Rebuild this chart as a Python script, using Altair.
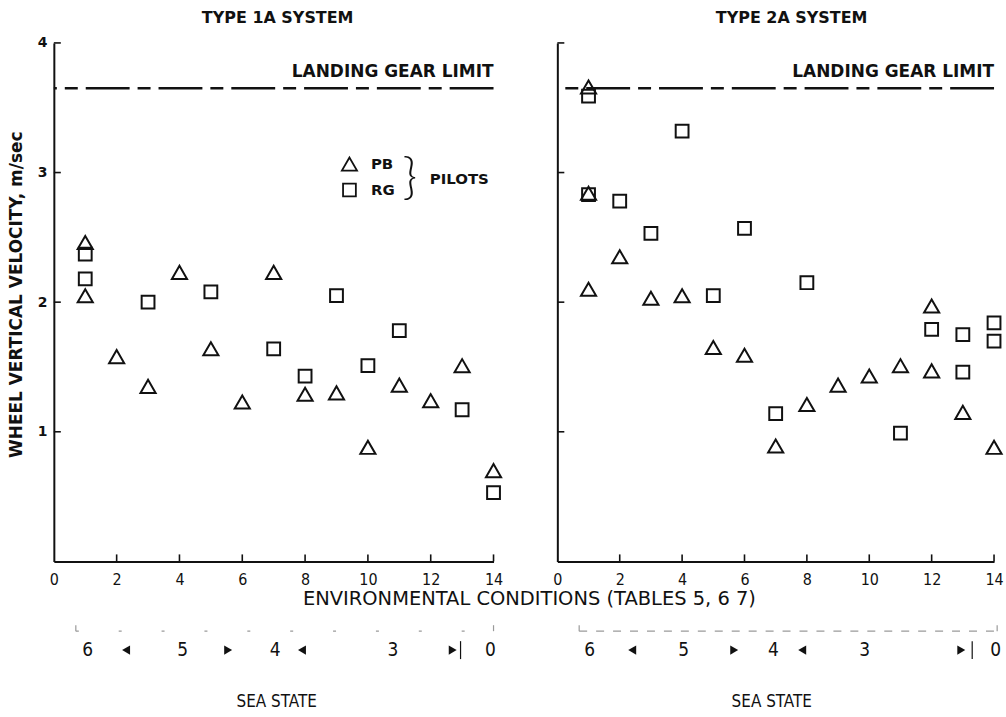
import altair as alt
import pandas as pd

# Wheel vertical velocity (m/sec) against environmental condition number, per pilot
T1_PB_COND = [1, 1, 2, 3, 4, 5, 6, 7, 8, 9, 10, 11, 12, 13, 14]
T1_PB_VEL = [2.46, 2.05, 1.58, 1.35, 2.23, 1.64, 1.23, 2.23, 1.29, 1.30, 0.88, 1.36, 1.24, 1.51, 0.70]
T1_RG_COND = [1, 1, 3, 5, 7, 8, 9, 10, 11, 13, 14]
T1_RG_VEL = [2.37, 2.18, 2.00, 2.08, 1.64, 1.43, 2.05, 1.51, 1.78, 1.17, 0.53]

T2_PB_COND = [1, 1, 1, 2, 3, 4, 5, 6, 7, 8, 9, 10, 11, 12, 12, 13, 14]
T2_PB_VEL = [3.66, 2.84, 2.10, 2.35, 2.03, 2.05, 1.65, 1.59, 0.89, 1.21, 1.36, 1.43, 1.51, 1.97, 1.47, 1.15, 0.88]
T2_RG_COND = [1, 1, 2, 3, 4, 5, 6, 7, 8, 11, 12, 13, 13, 14, 14]
T2_RG_VEL = [3.59, 2.83, 2.78, 2.53, 3.32, 2.05, 2.57, 1.14, 2.15, 0.99, 1.79, 1.75, 1.46, 1.84, 1.70]

LANDING_GEAR_LIMIT = 3.65

PILOTS = ["PB", "RG"]
PILOT_SHAPES = ["triangle-up", "square"]
PILOT_SIZES = [230, 165]

X_TICKS = [0, 2, 4, 6, 8, 10, 12, 14]
Y_TICKS = [1, 2, 3, 4]

# Sea state scale drawn under each panel, located along the condition axis
SEA_STATES = ["6", "5", "4", "3", "0"]
T1_SEA_POS = [1.08, 4.1, 7.05, 10.8, 13.9]
T1_ARROW_LEFT = [2.3, 7.9]
T1_ARROW_RIGHT = [5.55, 12.7]
T1_STOP = [12.95]
T1_BRACKET = [0.7, 14.0]

T2_SEA_POS = [1.04, 4.05, 6.93, 9.85, 14.05]
T2_ARROW_LEFT = [2.4, 7.85]
T2_ARROW_RIGHT = [5.67, 12.95]
T2_STOP = [13.3]
T2_BRACKET = [0.7, 14.1]

H = 520
BLACK = "#111111"
FADED = "#9a9a9a"
SANS = "DejaVu Sans"
NARROW = "Liberation Sans Narrow, DejaVu Sans Condensed, Liberation Sans"


def frame(conds_pb, vels_pb, conds_rg, vels_rg):
    return pd.concat([
        pd.DataFrame({"cond": conds_pb, "vel": vels_pb, "pilot": "PB"}),
        pd.DataFrame({"cond": conds_rg, "vel": vels_rg, "pilot": "RG"}),
    ], ignore_index=True)


def panel(df, title, W, title_dx, title_offset, sea_pos, arrow_l, arrow_r,
          stop, bracket, bracket_dash, sea_dx, first):
    xs = alt.Scale(domain=[0, 14], nice=False, zero=False)
    ys = alt.Scale(domain=[0, 4], nice=False, zero=False)

    x_axis = alt.Axis(values=X_TICKS, ticks=False, grid=False, domainWidth=2,
                      domainColor=BLACK, labelColor=BLACK, labelFont=NARROW,
                      labelFontSize=16, labelPadding=10, labelFlush=False,
                      format="d", title=None)
    if first:
        y_axis = alt.Axis(values=Y_TICKS, ticks=False, grid=False, domainWidth=2,
                          domainColor=BLACK, labelColor=BLACK, labelFont=SANS,
                          labelFontSize=14, labelFontWeight="bold",
                          labelPadding=7, format="d",
                          title="WHEEL VERTICAL VELOCITY, m/sec",
                          titleFont=SANS, titleFontSize=17,
                          titleFontWeight="bold", titleColor=BLACK,
                          titlePadding=12, titleY=252)
        legend = alt.Legend(orient="none", legendX=288, legendY=113, title=None,
                            symbolStrokeWidth=1.8,
                            symbolStrokeColor=BLACK, symbolFillColor="white",
                            labelFont=SANS, labelFontSize=15,
                            labelFontWeight="bold", labelColor=BLACK,
                            labelOffset=13, rowPadding=5)
    else:
        y_axis = alt.Axis(values=Y_TICKS, ticks=False, grid=False, domainWidth=2,
                          domainColor=BLACK, labels=False, title=None)
        legend = None

    points = alt.Chart(df).mark_point(filled=False, strokeWidth=2, color=BLACK,
                                      opacity=1).encode(
        x=alt.X("cond:Q", scale=xs, axis=x_axis),
        y=alt.Y("vel:Q", scale=ys, axis=y_axis),
        shape=alt.Shape("pilot:N", scale=alt.Scale(domain=PILOTS, range=PILOT_SHAPES),
                        legend=legend),
        size=alt.Size("pilot:N", scale=alt.Scale(domain=PILOTS, range=PILOT_SIZES),
                      legend=legend),
    )

    # inward tick marks on both axes
    x_ticks = alt.Chart(pd.DataFrame({"t": X_TICKS[1:]})).mark_rule(
        color=BLACK, strokeWidth=1.6).encode(
        x=alt.X("t:Q", scale=xs), y=alt.value(H), y2=alt.value(H - 7))
    y_ticks = alt.Chart(pd.DataFrame({"t": Y_TICKS})).mark_rule(
        color=BLACK, strokeWidth=1.6).encode(
        y=alt.Y("t:Q", scale=ys), x=alt.value(0), x2=alt.value(7))

    limit_df = pd.DataFrame({"v": [LANDING_GEAR_LIMIT]})
    limit = alt.Chart(limit_df).mark_rule(
        color=BLACK, strokeWidth=2.4, strokeDash=[44, 8, 13, 8]).encode(
        y=alt.Y("v:Q", scale=ys))
    limit_label = alt.Chart(limit_df).mark_text(
        align="right", baseline="bottom", dy=-7, font=SANS, fontSize=17,
        fontWeight="bold", color=BLACK).encode(
        x=alt.value(W), y=alt.Y("v:Q", scale=ys),
        text=alt.value("LANDING GEAR LIMIT"))

    # sea state scale below the axis, with its faded bracket line
    sea_y = H + 89
    bracket_df = pd.DataFrame({"a": [bracket[0]], "b": [bracket[1]]})
    bracket_line = alt.Chart(bracket_df).mark_rule(
        color=FADED, strokeWidth=1.2, strokeDash=bracket_dash).encode(
        x=alt.X("a:Q", scale=xs), x2="b:Q", y=alt.value(sea_y - 19))
    bracket_ends = alt.Chart(pd.DataFrame({"e": bracket})).mark_rule(
        color=FADED, strokeWidth=1.2).encode(
        x=alt.X("e:Q", scale=xs), y=alt.value(sea_y - 19), y2=alt.value(sea_y - 25))
    sea_labels = alt.Chart(pd.DataFrame({"pos": sea_pos, "s": SEA_STATES})).mark_text(
        font=NARROW, fontSize=19, color=BLACK, baseline="middle").encode(
        x=alt.X("pos:Q", scale=xs), y=alt.value(sea_y), text="s:N")
    left_arrows = alt.Chart(pd.DataFrame({"pos": arrow_l})).mark_point(
        shape="triangle-left", filled=True, size=85, color=BLACK, opacity=1).encode(
        x=alt.X("pos:Q", scale=xs), y=alt.value(sea_y))
    right_arrows = alt.Chart(pd.DataFrame({"pos": arrow_r})).mark_point(
        shape="triangle-right", filled=True, size=85, color=BLACK, opacity=1).encode(
        x=alt.X("pos:Q", scale=xs), y=alt.value(sea_y))
    stop_bar = alt.Chart(pd.DataFrame({"pos": stop})).mark_rule(
        color=BLACK, strokeWidth=1.2).encode(
        x=alt.X("pos:Q", scale=xs), y=alt.value(sea_y - 9), y2=alt.value(sea_y + 9))
    sea_title = alt.Chart(pd.DataFrame({"t": ["SEA STATE"]})).mark_text(
        font=NARROW, fontSize=17, color=BLACK).encode(
        x=alt.value(W / 2 + sea_dx), y=alt.value(H + 141), text="t:N")

    layers = [limit, x_ticks, y_ticks, points, limit_label, bracket_line,
              bracket_ends, sea_labels, left_arrows, right_arrows, stop_bar,
              sea_title]

    if first:
        pilots = alt.Chart(pd.DataFrame({"t": ["PILOTS"]})).mark_text(
            align="left", font=SANS, fontSize=15, fontWeight="bold",
            color=BLACK).encode(x=alt.value(377), y=alt.value(136), text="t:N")
        brace = alt.Chart(pd.DataFrame({"t": ["}"]})).mark_text(
            font="Lato", fontSize=50, fontWeight=300, color=BLACK).encode(
            x=alt.value(357), y=alt.value(136), text="t:N")
        env_title = alt.Chart(pd.DataFrame({"t": ["ENVIRONMENTAL CONDITIONS (TABLES 5, 6 7)"]})).mark_text(
            font=SANS, fontSize=19.5, color=BLACK).encode(
            x=alt.value(477), y=alt.value(H + 38), text="t:N")
        layers += [pilots, brace, env_title]

    return alt.layer(*layers).properties(
        width=W, height=H,
        title=alt.Title(title, font=SANS, fontSize=16, fontWeight="bold",
                        color=BLACK, anchor="middle", frame="group",
                        offset=title_offset, dx=title_dx),
    )


left = panel(frame(T1_PB_COND, T1_PB_VEL, T1_RG_COND, T1_RG_VEL),
             "TYPE 1A SYSTEM", 441, 4, 10, T1_SEA_POS, T1_ARROW_LEFT,
             T1_ARROW_RIGHT, T1_STOP, T1_BRACKET, [3, 40], 3, True)
right = panel(frame(T2_PB_COND, T2_PB_VEL, T2_RG_COND, T2_RG_VEL),
              "TYPE 2A SYSTEM", 438, 16, 16, T2_SEA_POS, T2_ARROW_LEFT,
              T2_ARROW_RIGHT, T2_STOP, T2_BRACKET, [8, 9], -4, False)

chart = alt.hconcat(left, right, spacing=64, bounds="flush").resolve_scale(
    shape="independent", size="independent"
).properties(
    padding={"left": 7, "top": 9, "right": 0, "bottom": 2},
    background="white",
).configure_view(stroke=None)

chart.save("out.html", embed_options={"renderer": "svg", "actions": False})
